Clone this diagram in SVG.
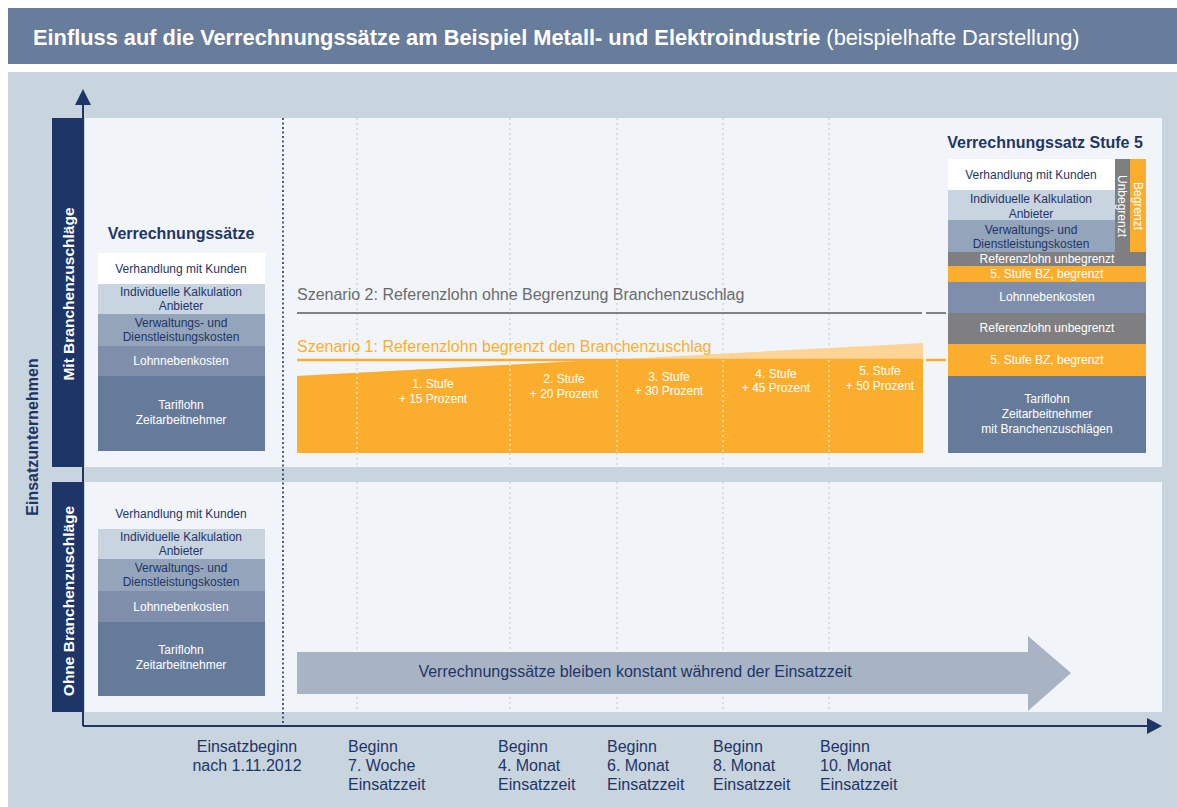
<svg xmlns="http://www.w3.org/2000/svg" width="1177" height="807" viewBox="0 0 1177 807">
<style>
text{font-family:"Liberation Sans",Arial,sans-serif}
.nv{fill:#1f3566}
.wt{fill:#ffffff}
.s12{font-size:12px}
.s11{font-size:11px}
.mid{text-anchor:middle}
.grid{stroke:#c5cfdb;stroke-width:1.2;stroke-dasharray:2 3;fill:none}
.gridw{stroke:#ffffff;stroke-width:1.2;stroke-dasharray:2 3;fill:none;opacity:0.85}
.ax{font-size:16px;fill:#1f3566}
</style>
<rect x="0" y="0" width="1177" height="807" fill="#ffffff"/>
<g id="title">
<rect x="8" y="8" width="1169" height="56" fill="#687c9b"/>
<text x="33" y="45" font-size="21.8" fill="#ffffff"><tspan font-weight="bold">Einfluss auf die Verrechnungssätze am Beispiel Metall- und Elektroindustrie</tspan> (beispielhafte Darstellung)</text>
</g>
<rect x="8" y="72" width="1169" height="735" fill="#c8d4de"/>
<g id="panels">
<rect x="85" y="118" width="1077" height="349" fill="#f1f5f9"/>
<rect x="85" y="482" width="1077" height="230" fill="#f1f5f9"/>
<rect x="52" y="118" width="31" height="349" fill="#1e3568"/>
<rect x="52" y="482" width="31" height="230" fill="#1e3568"/>
<text transform="translate(74 294) rotate(-90)" class="wt mid" font-size="15.5" font-weight="bold">Mit Branchenzuschläge</text>
<text transform="translate(74 601) rotate(-90)" class="wt mid" font-size="15.5" font-weight="bold">Ohne Branchenzuschläge</text>
<text transform="translate(38 437) rotate(-90)" class="nv mid" font-size="16" font-weight="bold">Einsatzunternehmen</text>
</g>
<g id="grid">
<path class="grid" d="M357 118V467M510 118V467M617 118V467M723 118V467M829 118V467M357 482V712M510 482V712M617 482V712M723 482V712M829 482V712"/>
<path d="M283 118V726" stroke="#1f3566" stroke-width="1.6" stroke-dasharray="2 2.5" fill="none"/>
</g>
<g id="stack-left">
<text x="181" y="239" class="nv mid" font-size="16" font-weight="bold">Verrechnungssätze</text>
<rect x="98" y="253" width="167" height="31" fill="#ffffff"/>
<rect x="98" y="284" width="167" height="30" fill="#c8d4e0"/>
<rect x="98" y="314" width="167" height="32" fill="#94a4bb"/>
<rect x="98" y="346" width="167" height="30" fill="#7f8fab"/>
<rect x="98" y="376" width="167" height="75" fill="#667a9a"/>
<text x="181" y="273" class="nv mid s12">Verhandlung mit Kunden</text>
<text x="181" y="296" class="nv mid s12">Individuelle Kalkulation</text>
<text x="181" y="310" class="nv mid s12">Anbieter</text>
<text x="181" y="327" class="nv mid s12">Verwaltungs- und</text>
<text x="181" y="341" class="nv mid s12">Dienstleistungskosten</text>
<text x="181" y="365" class="wt mid s12">Lohnnebenkosten</text>
<text x="181" y="409" class="wt mid s12">Tariflohn</text>
<text x="181" y="424" class="wt mid s12">Zeitarbeitnehmer</text>
</g>
<g id="stack-bottom">
<text x="181" y="518" class="nv mid s12">Verhandlung mit Kunden</text>
<rect x="98" y="529" width="167" height="30" fill="#c8d4e0"/>
<rect x="98" y="559" width="167" height="32" fill="#94a4bb"/>
<rect x="98" y="591" width="167" height="31" fill="#7f8fab"/>
<rect x="98" y="622" width="167" height="74" fill="#667a9a"/>
<text x="181" y="541" class="nv mid s12">Individuelle Kalkulation</text>
<text x="181" y="555" class="nv mid s12">Anbieter</text>
<text x="181" y="572" class="nv mid s12">Verwaltungs- und</text>
<text x="181" y="586" class="nv mid s12">Dienstleistungskosten</text>
<text x="181" y="611" class="wt mid s12">Lohnnebenkosten</text>
<text x="181" y="654" class="wt mid s12">Tariflohn</text>
<text x="181" y="669" class="wt mid s12">Zeitarbeitnehmer</text>
</g>
<g id="scenarios">
<text x="297" y="300" font-size="16" fill="#6b6b6e">Szenario 2: Referenzlohn ohne Begrenzung Branchenzuschlag</text>
<path d="M297 313H922M926 313H946" stroke="#808185" stroke-width="2" fill="none"/>
<polygon points="297,376 923,343 923,453 297,453" fill="#fdd495"/>
<path d="M297 360H923M926 360H946" stroke="#fbae2e" stroke-width="2.5" fill="none"/>
<polygon points="297,376 600,360 923,360 923,453 297,453" fill="#fbae2e"/>
<text x="297" y="352" font-size="16" fill="#fbae2e">Szenario 1: Referenzlohn begrenzt den Branchenzuschlag</text>
<path class="gridw" d="M357 372V453M510 364V453M617 360V453M723 360V453M829 360V453"/>
<g class="wt mid s12">
<text x="433" y="388">1. Stufe</text><text x="433" y="403">+ 15 Prozent</text>
<text x="564" y="383">2. Stufe</text><text x="564" y="398">+ 20 Prozent</text>
<text x="669" y="381">3. Stufe</text><text x="669" y="395">+ 30 Prozent</text>
<text x="776" y="378">4. Stufe</text><text x="776" y="392">+ 45 Prozent</text>
<text x="880" y="375">5. Stufe</text><text x="880" y="390">+ 50 Prozent</text>
</g>
</g>
<g id="stack-right">
<text x="1045" y="148" class="nv mid" font-size="16" font-weight="bold">Verrechnungssatz Stufe 5</text>
<rect x="948" y="159" width="167" height="31" fill="#ffffff"/>
<rect x="948" y="190" width="167" height="30" fill="#c8d4e0"/>
<rect x="948" y="220" width="167" height="32" fill="#94a4bb"/>
<rect x="1115" y="159" width="15" height="93" fill="#7f7f82"/>
<rect x="1130" y="159" width="16" height="93" fill="#fbae2e"/>
<rect x="948" y="252" width="198" height="14" fill="#7f7f82"/>
<rect x="948" y="266" width="198" height="16" fill="#fbae2e"/>
<rect x="948" y="282" width="198" height="31" fill="#7f8fab"/>
<rect x="948" y="313" width="198" height="31" fill="#7f7f82"/>
<rect x="948" y="344" width="198" height="32" fill="#fbae2e"/>
<rect x="948" y="376" width="198" height="77" fill="#667a9a"/>
<text x="1031" y="179" class="nv mid s12">Verhandlung mit Kunden</text>
<text x="1031" y="203" class="nv mid s12">Individuelle Kalkulation</text>
<text x="1031" y="218" class="nv mid s12">Anbieter</text>
<text x="1031" y="234" class="nv mid s12">Verwaltungs- und</text>
<text x="1031" y="248" class="nv mid s12">Dienstleistungskosten</text>
<text transform="translate(1118 206) rotate(90)" class="wt mid s12">Unbegrenzt</text>
<text transform="translate(1134 206) rotate(90)" class="wt mid s12">Begrenzt</text>
<text x="1047" y="263" class="wt mid s12">Referenzlohn unbegrenzt</text>
<text x="1047" y="278" class="wt mid s12">5. Stufe BZ, begrenzt</text>
<text x="1047" y="301" class="wt mid s12">Lohnnebenkosten</text>
<text x="1047" y="332" class="wt mid s12">Referenzlohn unbegrenzt</text>
<text x="1047" y="364" class="wt mid s12">5. Stufe BZ, begrenzt</text>
<text x="1047" y="403" class="wt mid s12">Tariflohn</text>
<text x="1047" y="418" class="wt mid s12">Zeitarbeitnehmer</text>
<text x="1047" y="433" class="wt mid s12">mit Branchenzuschlägen</text>
</g>
<g id="constant-arrow">
<polygon points="297,652 1028,652 1028,636 1071,673 1028,711 1028,694 297,694" fill="#a8b3c4"/>
<text x="635" y="677" class="nv mid" font-size="16">Verrechnungssätze bleiben konstant während der Einsatzzeit</text>
</g>
<g id="axes">
<path d="M83 726V104M83 726H1148" stroke="#1f3566" stroke-width="2" fill="none"/>
<polygon points="83,89 75,105 91,105" fill="#1f3566"/>
<polygon points="1162,726 1147,718 1147,734" fill="#1f3566"/>
</g>
<g id="axis-labels">
<text x="247" y="752" class="ax mid">Einsatzbeginn</text>
<text x="247" y="771" class="ax mid">nach 1.11.2012</text>
<text class="ax"><tspan x="348" y="752">Beginn</tspan><tspan x="348" y="771">7. Woche</tspan><tspan x="348" y="790">Einsatzzeit</tspan></text>
<text class="ax"><tspan x="498" y="752">Beginn</tspan><tspan x="498" y="771">4. Monat</tspan><tspan x="498" y="790">Einsatzzeit</tspan></text>
<text class="ax"><tspan x="607" y="752">Beginn</tspan><tspan x="607" y="771">6. Monat</tspan><tspan x="607" y="790">Einsatzzeit</tspan></text>
<text class="ax"><tspan x="713" y="752">Beginn</tspan><tspan x="713" y="771">8. Monat</tspan><tspan x="713" y="790">Einsatzzeit</tspan></text>
<text class="ax"><tspan x="820" y="752">Beginn</tspan><tspan x="820" y="771">10. Monat</tspan><tspan x="820" y="790">Einsatzzeit</tspan></text>
</g>
</svg>
